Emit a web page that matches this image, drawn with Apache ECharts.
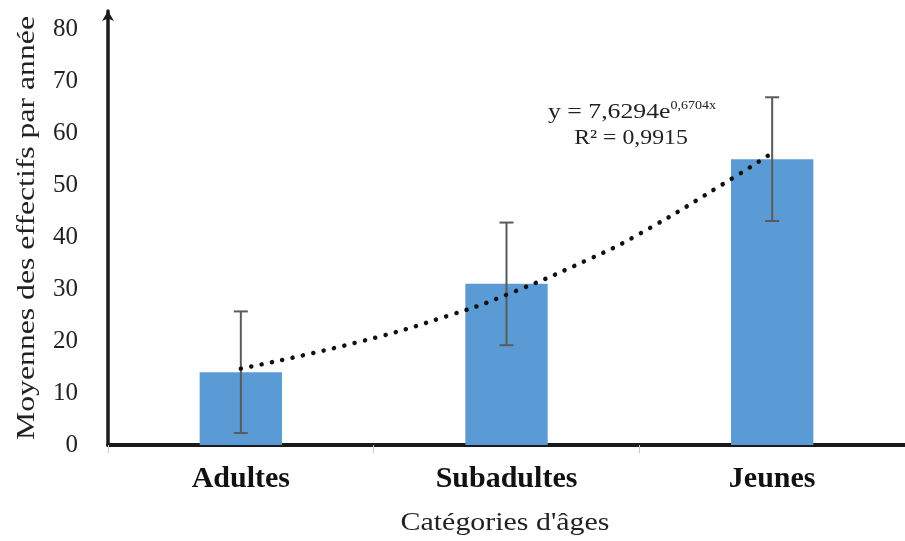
<!DOCTYPE html>
<html>
<head>
<meta charset="utf-8">
<script src="https://cdn.jsdelivr.net/npm/echarts@6/dist/echarts.min.js"></script>
<style>
  html, body { margin: 0; padding: 0; background: #fff; }
  #container { width: 905px; height: 541px; }
</style>
</head>
<body>
<div id="container"></div>
<script>
// Moyennes des effectifs par année, par catégorie d'âge

const categories = ["Adultes", "Subadultes", "Jeunes"];
const moyennes = [14, 31, 55];
const erreurs = [11.7, 11.8, 11.9];
// tendance exponentielle (x = position de la catégorie)
const trendX = [1, 1.45, 1.8, 2, 2.3, 2.5, 2.85, 3];
const trendY = [14.7, 19.9, 25.2, 28.9, 35.5, 40.6, 51.3, 56.2];
const yTicks = [0, 10, 20, 30, 40, 50, 60, 70, 80];
const equation = "y = 7,6294e";
const exposant = "0,6704x";
const r2 = "R² = 0,9915";

const serif = "Liberation Serif";

function echartSetup(container) {
  let myChart = echarts.init(document.getElementById(container)),
    errData = [],
    trendData = [];

  for (let i = 0; i < categories.length; i++) {
    errData.push([i, moyennes[i] - erreurs[i], moyennes[i] + erreurs[i]]);
  }
  for (let i = 0; i < trendX.length; i++) {
    trendData.push([trendX[i], trendY[i]]);
  }

  let option = {
    animation: false,
    backgroundColor: "#fff",
    grid: {
      left: 108,
      right: 0,
      top: 11,
      bottom: 96
    },
    xAxis: [
      {
        type: "category",
        data: categories,
        axisLine: {
          lineStyle: { color: "#1a1a1a", width: 4 }
        },
        axisTick: {
          show: true,
          inside: false,
          length: 8,
          lineStyle: { color: "#c8c8c8", width: 1 }
        },
        axisLabel: {
          fontFamily: serif,
          fontWeight: "bold",
          fontSize: 30,
          color: "#111",
          margin: 19
        }
      },
      {
        type: "value",
        min: 0.5,
        max: 3.5,
        show: false
      }
    ],
    yAxis: {
      type: "value",
      min: 0,
      max: 83.5,
      interval: 10,
      axisLine: {
        show: true,
        symbol: ["none", "arrow"],
        symbolSize: [9, 10],
        lineStyle: { color: "#1a1a1a", width: 3.5 }
      },
      axisTick: { show: false },
      splitLine: { show: false },
      axisLabel: {
        fontFamily: serif,
        fontSize: 25,
        color: "#222",
        margin: 30,
        showMaxLabel: false,
        formatter: function (v) {
          return yTicks.indexOf(v) >= 0 ? String(v) : "";
        }
      }
    },
    series: [
      {
        name: "Moyenne",
        type: "bar",
        data: moyennes,
        barWidth: "31%",
        itemStyle: { color: "#5b9bd5" }
      },
      {
        name: "Erreur",
        type: "custom",
        data: errData,
        z: 5,
        renderItem: function (params, api) {
          let x = api.value(0),
            lo = api.coord([x, api.value(1)]),
            hi = api.coord([x, api.value(2)]),
            cap = 7,
            style = { stroke: "#5a5a5a", lineWidth: 2 };
          return {
            type: "group",
            children: [
              { type: "line", shape: { x1: hi[0], y1: hi[1], x2: lo[0], y2: lo[1] }, style: style },
              { type: "line", shape: { x1: hi[0] - cap, y1: hi[1], x2: hi[0] + cap, y2: hi[1] }, style: style },
              { type: "line", shape: { x1: lo[0] - cap, y1: lo[1], x2: lo[0] + cap, y2: lo[1] }, style: style }
            ]
          };
        }
      },
      {
        name: "Tendance",
        type: "line",
        xAxisIndex: 1,
        data: trendData,
        smooth: true,
        showSymbol: false,
        z: 6,
        lineStyle: {
          color: "#111",
          width: 4.5,
          type: [0.1, 10.5],
          cap: "round"
        }
      }
    ],
    graphic: [
      {
        type: "text",
        x: 27,
        y: 228,
        rotation: Math.PI / 2,
        scaleX: 1.22,
        style: {
          text: "Moyennes des effectifs par année",
          fontFamily: serif,
          fontSize: 26,
          fill: "#222",
          align: "center",
          verticalAlign: "middle"
        }
      },
      {
        type: "text",
        x: 505,
        y: 523,
        scaleX: 1.15,
        style: {
          text: "Catégories d'âges",
          fontFamily: serif,
          fontSize: 26,
          fill: "#222",
          align: "center",
          verticalAlign: "middle"
        }
      },
      {
        type: "text",
        x: 548,
        y: 112,
        scaleX: 1.17,
        style: {
          text: "{m|" + equation + "}{s|" + exposant + "}",
          align: "left",
          verticalAlign: "middle",
          rich: {
            m: { fontFamily: serif, fontSize: 22, fill: "#222" },
            s: { fontFamily: serif, fontSize: 12, fill: "#222", padding: [0, 0, 12, 0] }
          }
        }
      },
      {
        type: "text",
        x: 631,
        y: 138,
        scaleX: 1.08,
        style: {
          text: r2,
          fontFamily: serif,
          fontSize: 22,
          fill: "#222",
          align: "center",
          verticalAlign: "middle"
        }
      }
    ]
  };

  myChart.setOption(option);
  window.addEventListener("resize", myChart.resize);
}

echartSetup("container");
</script>
</body>
</html>
